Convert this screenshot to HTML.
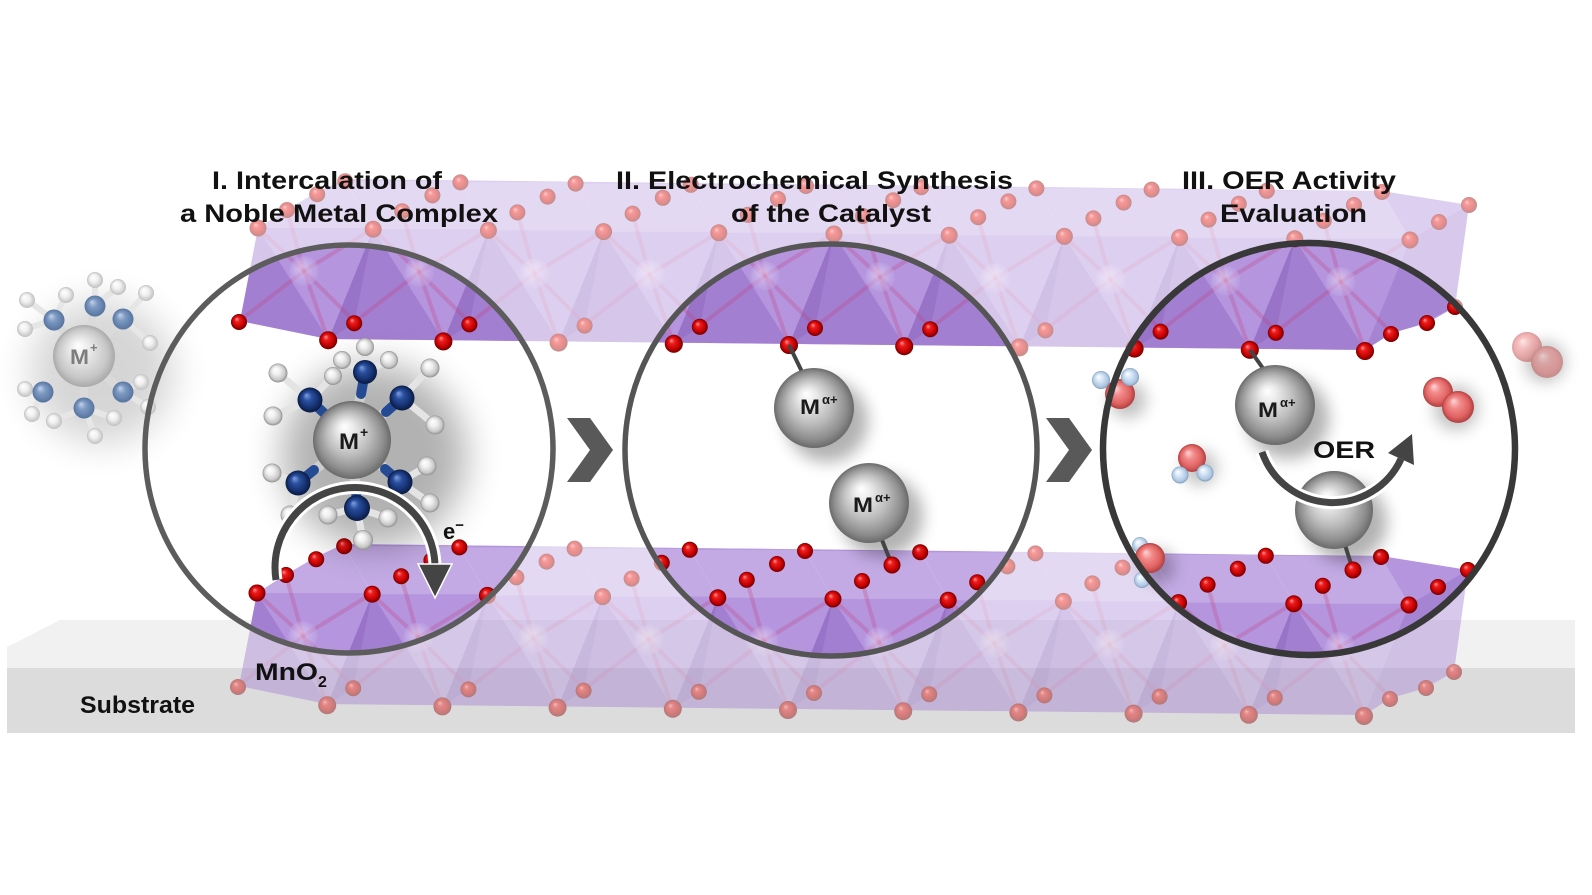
<!DOCTYPE html>
<html><head><meta charset="utf-8">
<style>html,body{margin:0;padding:0;background:#fff;}svg{display:block}</style>
</head><body>
<svg width="1592" height="895" viewBox="0 0 1592 895" xmlns="http://www.w3.org/2000/svg" font-family="'Liberation Sans', Arial, sans-serif" font-weight="bold">
<defs>
  <radialGradient id="oG" cx="50%" cy="50%" r="50%" fx="35%" fy="30%">
    <stop offset="0" stop-color="#ff9a9a"/><stop offset=".3" stop-color="#ee1c1c"/><stop offset=".75" stop-color="#c00000"/><stop offset="1" stop-color="#700000"/>
  </radialGradient>
  <radialGradient id="mnG" cx="50%" cy="50%" r="50%" fx="40%" fy="35%">
    <stop offset="0" stop-color="#f4eefb"/><stop offset=".45" stop-color="#dccbf1"/><stop offset="1" stop-color="#bc9fe2"/>
  </radialGradient>
  <radialGradient id="metG" cx="50%" cy="50%" r="50%" fx="40%" fy="32%">
    <stop offset="0" stop-color="#ffffff"/><stop offset=".2" stop-color="#ececec"/><stop offset=".55" stop-color="#bdbdbd"/><stop offset=".85" stop-color="#8c8c8c"/><stop offset="1" stop-color="#6a6a6a"/>
  </radialGradient>
  <radialGradient id="lmG" cx="50%" cy="50%" r="50%" fx="40%" fy="32%">
    <stop offset="0" stop-color="#ffffff"/><stop offset=".35" stop-color="#e8e8e8"/><stop offset=".8" stop-color="#c6c6c6"/><stop offset="1" stop-color="#a9a9a9"/>
  </radialGradient>
  <radialGradient id="nG" cx="50%" cy="50%" r="50%" fx="35%" fy="30%">
    <stop offset="0" stop-color="#7fa0e0"/><stop offset=".35" stop-color="#2a4f9e"/><stop offset=".75" stop-color="#15306e"/><stop offset="1" stop-color="#0a1a40"/>
  </radialGradient>
  <radialGradient id="lnG" cx="50%" cy="50%" r="50%" fx="35%" fy="30%">
    <stop offset="0" stop-color="#c5d3ea"/><stop offset=".4" stop-color="#7f9bc4"/><stop offset="1" stop-color="#56749f"/>
  </radialGradient>
  <radialGradient id="hG" cx="50%" cy="50%" r="50%" fx="35%" fy="30%">
    <stop offset="0" stop-color="#ffffff"/><stop offset=".4" stop-color="#f0f0f0"/><stop offset=".8" stop-color="#c8c8c8"/><stop offset="1" stop-color="#8f8f8f"/>
  </radialGradient>
  <radialGradient id="lhG" cx="50%" cy="50%" r="50%" fx="35%" fy="30%">
    <stop offset="0" stop-color="#ffffff"/><stop offset=".5" stop-color="#f0f0f0"/><stop offset="1" stop-color="#c0c0c0"/>
  </radialGradient>
  <radialGradient id="sG" cx="50%" cy="50%" r="50%" fx="35%" fy="30%">
    <stop offset="0" stop-color="#ffd6d6"/><stop offset=".35" stop-color="#f28a8a"/><stop offset=".75" stop-color="#e06262"/><stop offset="1" stop-color="#b04040"/>
  </radialGradient>
  <radialGradient id="bG" cx="50%" cy="50%" r="50%" fx="35%" fy="30%">
    <stop offset="0" stop-color="#ffffff"/><stop offset=".4" stop-color="#d6e6f5"/><stop offset=".85" stop-color="#a9c4e0"/><stop offset="1" stop-color="#7d97b5"/>
  </radialGradient>
  <filter id="bl8" x="-60%" y="-60%" width="220%" height="220%"><feGaussianBlur stdDeviation="8"/></filter>
  <filter id="bl18" x="-60%" y="-60%" width="220%" height="220%"><feGaussianBlur stdDeviation="18"/></filter>

  <clipPath id="cc">
    <circle cx="349" cy="449" r="204"/>
    <circle cx="831" cy="450" r="206"/>
    <circle cx="1309" cy="449" r="206"/>
  </clipPath>

  <polygon id="silP" points="258,228 288,209 317,192 345,179 1382,191 1469,205 1455,307 1427,323 1392,333 1365,350 328,339 240,321"/>
  <clipPath id="silC"><use href="#silP"/></clipPath>

  <g id="uFace">
    <polygon points="-28,-48 87,-48 115,0 0,0" fill="#ffffff" fill-opacity=".2"/>
    <polygon points="0,0 -45,111 70,111" fill="#6b3aa6" fill-opacity=".24"/>
    <polygon points="0,0 -19,94 -45,111" fill="#4d2488" fill-opacity=".12"/>
  </g>
  <g id="uMn">
    <g stroke="#c23f7c" stroke-width="4" stroke-opacity=".28" stroke-linecap="round">
      <line x1="46" y1="43" x2="3" y2="3"/>
      <line x1="46" y1="43" x2="111" y2="3"/>
      <line x1="46" y1="43" x2="30" y2="-14"/>
      <line x1="46" y1="43" x2="68" y2="106"/>
      <line x1="46" y1="43" x2="93" y2="90"/>
      <line x1="46" y1="43" x2="-15" y2="90"/>
    </g>
    <circle cx="46" cy="43" r="15" fill="url(#mnG)" fill-opacity=".5"/>
  </g>
  <g id="uAB" fill="url(#oG)"><circle cx="-28" cy="-48" r="8"/><circle cx="-56" cy="-35" r="8"/></g>
  <g id="uC" fill="url(#oG)"><circle cx="29" cy="-18" r="8"/></g>
  <g id="uDE" fill="url(#oG)"><circle cx="-19" cy="94" r="8"/><circle cx="0" cy="0" r="8.5"/></g>
  <g id="uF" fill="url(#oG)"><circle cx="-45" cy="111" r="9"/></g>

  <g id="slab">
    <use href="#silP" fill="#b495de"/>
    <g clip-path="url(#silC)">
      <use href="#uFace" x="258" y="228"/>
      <use href="#uFace" x="373.2" y="229.2"/>
      <use href="#uFace" x="488.4" y="230.4"/>
      <use href="#uFace" x="603.6" y="231.6"/>
      <use href="#uFace" x="718.8" y="232.8"/>
      <use href="#uFace" x="834" y="234"/>
      <use href="#uFace" x="949.2" y="235.2"/>
      <use href="#uFace" x="1064.4" y="236.4"/>
      <use href="#uFace" x="1179.6" y="237.6"/>
      <use href="#uFace" x="1294.8" y="238.8"/>
      <polygon points="1410,240 1469,205 1455,307 1365,350" fill="#6b3aa6" fill-opacity=".18"/>
    </g>
    <use href="#uMn" x="258" y="228"/>
    <use href="#uMn" x="373.2" y="229.2"/>
    <use href="#uMn" x="488.4" y="230.4"/>
    <use href="#uMn" x="603.6" y="231.6"/>
    <use href="#uMn" x="718.8" y="232.8"/>
    <use href="#uMn" x="834" y="234"/>
    <use href="#uMn" x="949.2" y="235.2"/>
    <use href="#uMn" x="1064.4" y="236.4"/>
    <use href="#uMn" x="1179.6" y="237.6"/>
    <use href="#uMn" x="1294.8" y="238.8"/>

    <use href="#uAB" x="373.2" y="229.2"/>
    <use href="#uAB" x="488.4" y="230.4"/>
    <use href="#uAB" x="603.6" y="231.6"/>
    <use href="#uAB" x="718.8" y="232.8"/>
    <use href="#uAB" x="834" y="234"/>
    <use href="#uAB" x="949.2" y="235.2"/>
    <use href="#uAB" x="1064.4" y="236.4"/>
    <use href="#uAB" x="1179.6" y="237.6"/>
    <use href="#uAB" x="1294.8" y="238.8"/>
    <use href="#uAB" x="1410" y="240"/>
    <circle cx="1469" cy="205" r="8" fill="url(#oG)"/>

    <use href="#uC" x="258" y="228"/>
    <use href="#uC" x="373.2" y="229.2"/>
    <use href="#uC" x="488.4" y="230.4"/>
    <use href="#uC" x="603.6" y="231.6"/>
    <use href="#uC" x="718.8" y="232.8"/>
    <use href="#uC" x="834" y="234"/>
    <use href="#uC" x="949.2" y="235.2"/>
    <use href="#uC" x="1064.4" y="236.4"/>
    <use href="#uC" x="1179.6" y="237.6"/>
    <use href="#uC" x="1294.8" y="238.8"/>
    <use href="#uC" x="1410" y="240"/>

    <circle cx="1455" cy="307" r="8" fill="url(#oG)"/>
    <circle cx="1427" cy="323" r="8" fill="url(#oG)"/>

    <use href="#uDE" x="258" y="228"/>
    <use href="#uDE" x="373.2" y="229.2"/>
    <use href="#uDE" x="488.4" y="230.4"/>
    <use href="#uDE" x="603.6" y="231.6"/>
    <use href="#uDE" x="718.8" y="232.8"/>
    <use href="#uDE" x="834" y="234"/>
    <use href="#uDE" x="949.2" y="235.2"/>
    <use href="#uDE" x="1064.4" y="236.4"/>
    <use href="#uDE" x="1179.6" y="237.6"/>
    <use href="#uDE" x="1294.8" y="238.8"/>
    <use href="#uDE" x="1410" y="240"/>

    <use href="#uF" x="373.2" y="229.2"/>
    <use href="#uF" x="488.4" y="230.4"/>
    <use href="#uF" x="603.6" y="231.6"/>
    <use href="#uF" x="718.8" y="232.8"/>
    <use href="#uF" x="834" y="234"/>
    <use href="#uF" x="949.2" y="235.2"/>
    <use href="#uF" x="1064.4" y="236.4"/>
    <use href="#uF" x="1179.6" y="237.6"/>
    <use href="#uF" x="1294.8" y="238.8"/>
    <use href="#uF" x="1410" y="240"/>
  </g>
</defs>

<rect width="1592" height="895" fill="#ffffff"/>

<!-- substrate -->
<polygon points="7,647 60,620 1575,620 1575,668 7,668" fill="#f1f1f1"/>
<rect x="7" y="668" width="1568" height="65" fill="#dcdcdc"/>

<!-- faded slabs -->
<g opacity=".45">
  <use href="#slab"/>
  <use href="#slab" x="-1" y="365"/>
</g>
<!-- vivid slabs inside circles -->
<g clip-path="url(#cc)">
  <use href="#slab"/>
  <use href="#slab" x="-1" y="365"/>
</g>

<!-- left faded molecule -->
<ellipse cx="102" cy="372" rx="72" ry="72" fill="#000" opacity=".16" filter="url(#bl18)"/>
<g stroke-linecap="round">
  <g stroke="#dadada" stroke-width="8">
    <line x1="84" y1="356" x2="54" y2="320"/><line x1="84" y1="356" x2="95" y2="306"/><line x1="84" y1="356" x2="123" y2="319"/>
    <line x1="84" y1="356" x2="43" y2="392"/><line x1="84" y1="356" x2="84" y2="408"/><line x1="84" y1="356" x2="123" y2="392"/>
  </g>
  <g stroke="#e6e6e6" stroke-width="6">
    <line x1="54" y1="320" x2="27" y2="300"/><line x1="54" y1="320" x2="25" y2="329"/><line x1="54" y1="320" x2="66" y2="295"/>
    <line x1="95" y1="306" x2="95" y2="280"/><line x1="95" y1="306" x2="118" y2="287"/>
    <line x1="123" y1="319" x2="146" y2="293"/><line x1="123" y1="319" x2="150" y2="343"/>
    <line x1="43" y1="392" x2="25" y2="389"/><line x1="43" y1="392" x2="32" y2="414"/>
    <line x1="84" y1="408" x2="54" y2="421"/><line x1="84" y1="408" x2="95" y2="436"/><line x1="84" y1="408" x2="114" y2="418"/>
    <line x1="123" y1="392" x2="141" y2="382"/><line x1="123" y1="392" x2="148" y2="407"/>
  </g>
</g>
<g fill="url(#lhG)">
  <circle cx="27" cy="300" r="8"/><circle cx="25" cy="329" r="8"/><circle cx="66" cy="295" r="8"/>
  <circle cx="95" cy="280" r="8"/><circle cx="118" cy="287" r="8"/>
  <circle cx="146" cy="293" r="8"/><circle cx="150" cy="343" r="8"/>
  <circle cx="25" cy="389" r="8"/><circle cx="32" cy="414" r="8"/>
  <circle cx="54" cy="421" r="8"/><circle cx="95" cy="436" r="8"/><circle cx="114" cy="418" r="8"/>
  <circle cx="141" cy="382" r="8"/><circle cx="148" cy="407" r="8"/>
</g>
<g fill="url(#lnG)">
  <circle cx="54" cy="320" r="10.5"/><circle cx="95" cy="306" r="10.5"/><circle cx="123" cy="319" r="10.5"/>
  <circle cx="43" cy="392" r="10.5"/><circle cx="84" cy="408" r="10.5"/><circle cx="123" cy="392" r="10.5"/>
</g>
<circle cx="84" cy="356" r="31" fill="url(#lmG)"/>
<text x="70" y="364" font-size="21" fill="#7d7d7d" textLength="19" lengthAdjust="spacingAndGlyphs">M</text>
<text x="90" y="352" font-size="13" fill="#7d7d7d">+</text>

<!-- big molecule circle 1 -->
<ellipse cx="374" cy="456" rx="92" ry="92" fill="#000" opacity=".3" filter="url(#bl18)"/>
<g stroke-linecap="round">
  <g stroke="#cdcdcd" stroke-width="10">
    <line x1="352" y1="440" x2="310" y2="400"/><line x1="352" y1="440" x2="365" y2="372"/><line x1="352" y1="440" x2="402" y2="398"/>
    <line x1="352" y1="440" x2="298" y2="483"/><line x1="352" y1="440" x2="400" y2="482"/><line x1="352" y1="440" x2="357" y2="508"/>
  </g>
  <g stroke="#244a94" stroke-width="10">
    <line x1="325" y1="414" x2="310" y2="400"/><line x1="361" y1="394" x2="365" y2="372"/><line x1="386" y1="412" x2="402" y2="398"/>
    <line x1="314" y1="470" x2="298" y2="483"/><line x1="385" y1="469" x2="400" y2="482"/><line x1="356" y1="490" x2="357" y2="508"/>
  </g>
  <g stroke="#e4e4e4" stroke-width="7">
    <line x1="310" y1="400" x2="278" y2="373"/><line x1="310" y1="400" x2="273" y2="416"/><line x1="310" y1="400" x2="333" y2="376"/>
    <line x1="365" y1="372" x2="365" y2="347"/><line x1="365" y1="372" x2="342" y2="360"/><line x1="365" y1="372" x2="389" y2="360"/>
    <line x1="402" y1="398" x2="430" y2="368"/><line x1="402" y1="398" x2="435" y2="425"/>
    <line x1="298" y1="483" x2="272" y2="473"/><line x1="298" y1="483" x2="290" y2="515"/>
    <line x1="400" y1="482" x2="427" y2="466"/><line x1="400" y1="482" x2="430" y2="503"/>
    <line x1="357" y1="508" x2="363" y2="540"/><line x1="357" y1="508" x2="328" y2="515"/><line x1="357" y1="508" x2="388" y2="518"/>
  </g>
</g>
<g fill="url(#hG)">
  <circle cx="342" cy="360" r="9"/><circle cx="389" cy="360" r="9"/><circle cx="365" cy="347" r="9"/>
  <circle cx="278" cy="373" r="9.5"/><circle cx="273" cy="416" r="9.5"/><circle cx="333" cy="376" r="9"/>
  <circle cx="430" cy="368" r="9.5"/><circle cx="435" cy="425" r="9.5"/>
  <circle cx="272" cy="473" r="9.5"/><circle cx="290" cy="515" r="9.5"/>
  <circle cx="427" cy="466" r="9.5"/><circle cx="430" cy="503" r="9.5"/>
  <circle cx="328" cy="515" r="9.5"/><circle cx="388" cy="518" r="9.5"/><circle cx="363" cy="540" r="10"/>
</g>
<g fill="url(#nG)">
  <circle cx="310" cy="400" r="12.5"/><circle cx="365" cy="372" r="12"/><circle cx="402" cy="398" r="12.5"/>
  <circle cx="298" cy="483" r="12.5"/><circle cx="400" cy="482" r="12.5"/><circle cx="357" cy="508" r="13"/>
</g>
<circle cx="352" cy="440" r="39" fill="url(#metG)"/>
<text x="339" y="449" font-size="22" fill="#1a1a1a" textLength="20" lengthAdjust="spacingAndGlyphs">M</text>
<text x="360" y="437" font-size="14" fill="#1a1a1a">+</text>

<!-- e- arc arrow -->
<path d="M 276 580 A 80 80 0 1 1 435 566" fill="none" stroke="#ffffff" stroke-width="13"/>
<path d="M 276 580 A 80 80 0 1 1 435 566" fill="none" stroke="#444444" stroke-width="7"/>
<polygon points="418,564 452,564 435,598" fill="#444444" stroke="#ffffff" stroke-width="1.5"/>
<text x="443" y="539" font-size="22" fill="#111">e<tspan font-size="15" dy="-9">−</tspan></text>

<!-- circle 2 spheres -->
<line x1="789" y1="345" x2="806" y2="380" stroke="#444" stroke-width="4"/>
<circle cx="827" cy="421" r="41" fill="#000" opacity=".3" filter="url(#bl8)"/>
<circle cx="814" cy="408" r="40" fill="url(#metG)"/>
<text x="800" y="414" font-size="21" fill="#1a1a1a" textLength="20" lengthAdjust="spacingAndGlyphs">M</text>
<text x="822" y="404" font-size="13" fill="#1a1a1a">α+</text>
<circle cx="882" cy="516" r="41" fill="#000" opacity=".3" filter="url(#bl8)"/>
<line x1="882" y1="540" x2="892" y2="565" stroke="#444" stroke-width="4"/>
<circle cx="869" cy="503" r="40" fill="url(#metG)"/>
<text x="853" y="512" font-size="21" fill="#1a1a1a" textLength="20" lengthAdjust="spacingAndGlyphs">M</text>
<text x="875" y="502" font-size="13" fill="#1a1a1a">α+</text>
<circle cx="892" cy="565" r="8.5" fill="url(#oG)"/>

<!-- circle 3 contents -->
<line x1="1250" y1="350" x2="1267" y2="374" stroke="#444" stroke-width="4"/>
<circle cx="1288" cy="418" r="41" fill="#000" opacity=".3" filter="url(#bl8)"/>
<circle cx="1275" cy="405" r="40" fill="url(#metG)"/>
<text x="1258" y="417" font-size="21" fill="#1a1a1a" textLength="20" lengthAdjust="spacingAndGlyphs">M</text>
<text x="1280" y="407" font-size="13" fill="#1a1a1a">α+</text>

<circle cx="1347" cy="522" r="40" fill="#000" opacity=".3" filter="url(#bl8)"/>
<line x1="1345" y1="545" x2="1353" y2="570" stroke="#444" stroke-width="4"/>
<circle cx="1334" cy="510" r="39" fill="url(#metG)"/>
<circle cx="1353" cy="570" r="8.5" fill="url(#oG)"/>

<!-- water & O2 -->
<g fill="#000" opacity=".25" filter="url(#bl8)">
  <circle cx="1128" cy="400" r="18"/><circle cx="1200" cy="468" r="17"/><circle cx="1158" cy="566" r="17"/>
  <circle cx="1456" cy="408" r="22"/><circle cx="1545" cy="362" r="20"/>
</g>
<circle cx="1120" cy="394" r="15" fill="url(#sG)"/>
<circle cx="1101" cy="380" r="9" fill="url(#bG)"/>
<circle cx="1130" cy="377" r="9" fill="url(#bG)"/>
<circle cx="1192" cy="458" r="14" fill="url(#sG)"/>
<circle cx="1180" cy="475" r="8.5" fill="url(#bG)"/>
<circle cx="1205" cy="473" r="8.5" fill="url(#bG)"/>
<circle cx="1140" cy="545" r="8" fill="url(#bG)"/>
<circle cx="1150" cy="558" r="15" fill="url(#sG)"/>
<circle cx="1142" cy="580" r="8" fill="url(#bG)"/>
<circle cx="1438" cy="392" r="15" fill="url(#sG)"/>
<circle cx="1458" cy="407" r="16" fill="url(#sG)"/>
<g opacity=".5">
  <circle cx="1527" cy="347" r="15" fill="url(#sG)"/>
  <circle cx="1547" cy="362" r="16" fill="url(#sG)"/>
</g>

<!-- OER arc -->
<path d="M 1262 452 A 75 75 0 0 0 1401 459" fill="none" stroke="#ffffff" stroke-width="13"/>
<path d="M 1262 452 A 75 75 0 0 0 1401 459" fill="none" stroke="#444444" stroke-width="7"/>
<polygon points="1414,465 1388,453 1412,434" fill="#444444"/>
<text x="1313" y="458" font-size="24" fill="#111" textLength="62" lengthAdjust="spacingAndGlyphs">OER</text>

<!-- circles -->
<circle cx="349" cy="449" r="204" fill="none" stroke="#5c5c5c" stroke-width="5.5"/>
<circle cx="831" cy="450" r="206" fill="none" stroke="#555555" stroke-width="5.5"/>
<circle cx="1309" cy="449" r="206" fill="none" stroke="#383838" stroke-width="6.5"/>

<!-- chevrons -->
<polygon points="567,418 590,418 613,450 590,482 567,482 590,450" fill="#595959"/>
<polygon points="1046,418 1069,418 1092,450 1069,482 1046,482 1069,450" fill="#595959"/>

<!-- titles -->
<g font-size="25" fill="#111">
  <text x="212" y="189" textLength="230" lengthAdjust="spacingAndGlyphs">I. Intercalation of</text>
  <text x="180" y="222" textLength="318" lengthAdjust="spacingAndGlyphs">a Noble Metal Complex</text>
  <text x="616" y="189" textLength="397" lengthAdjust="spacingAndGlyphs">II. Electrochemical Synthesis</text>
  <text x="731" y="222" textLength="200" lengthAdjust="spacingAndGlyphs">of the Catalyst</text>
  <text x="1182" y="189" textLength="214" lengthAdjust="spacingAndGlyphs">III. OER Activity</text>
  <text x="1220" y="222" textLength="147" lengthAdjust="spacingAndGlyphs">Evaluation</text>
</g>

<!-- labels -->
<text x="80" y="713" font-size="24" fill="#111" textLength="115" lengthAdjust="spacingAndGlyphs">Substrate</text>
<text x="255" y="680" font-size="24" fill="#111" textLength="63" lengthAdjust="spacingAndGlyphs">MnO</text>
<text x="318" y="687" font-size="16" fill="#111">2</text>
</svg>
</body></html>
